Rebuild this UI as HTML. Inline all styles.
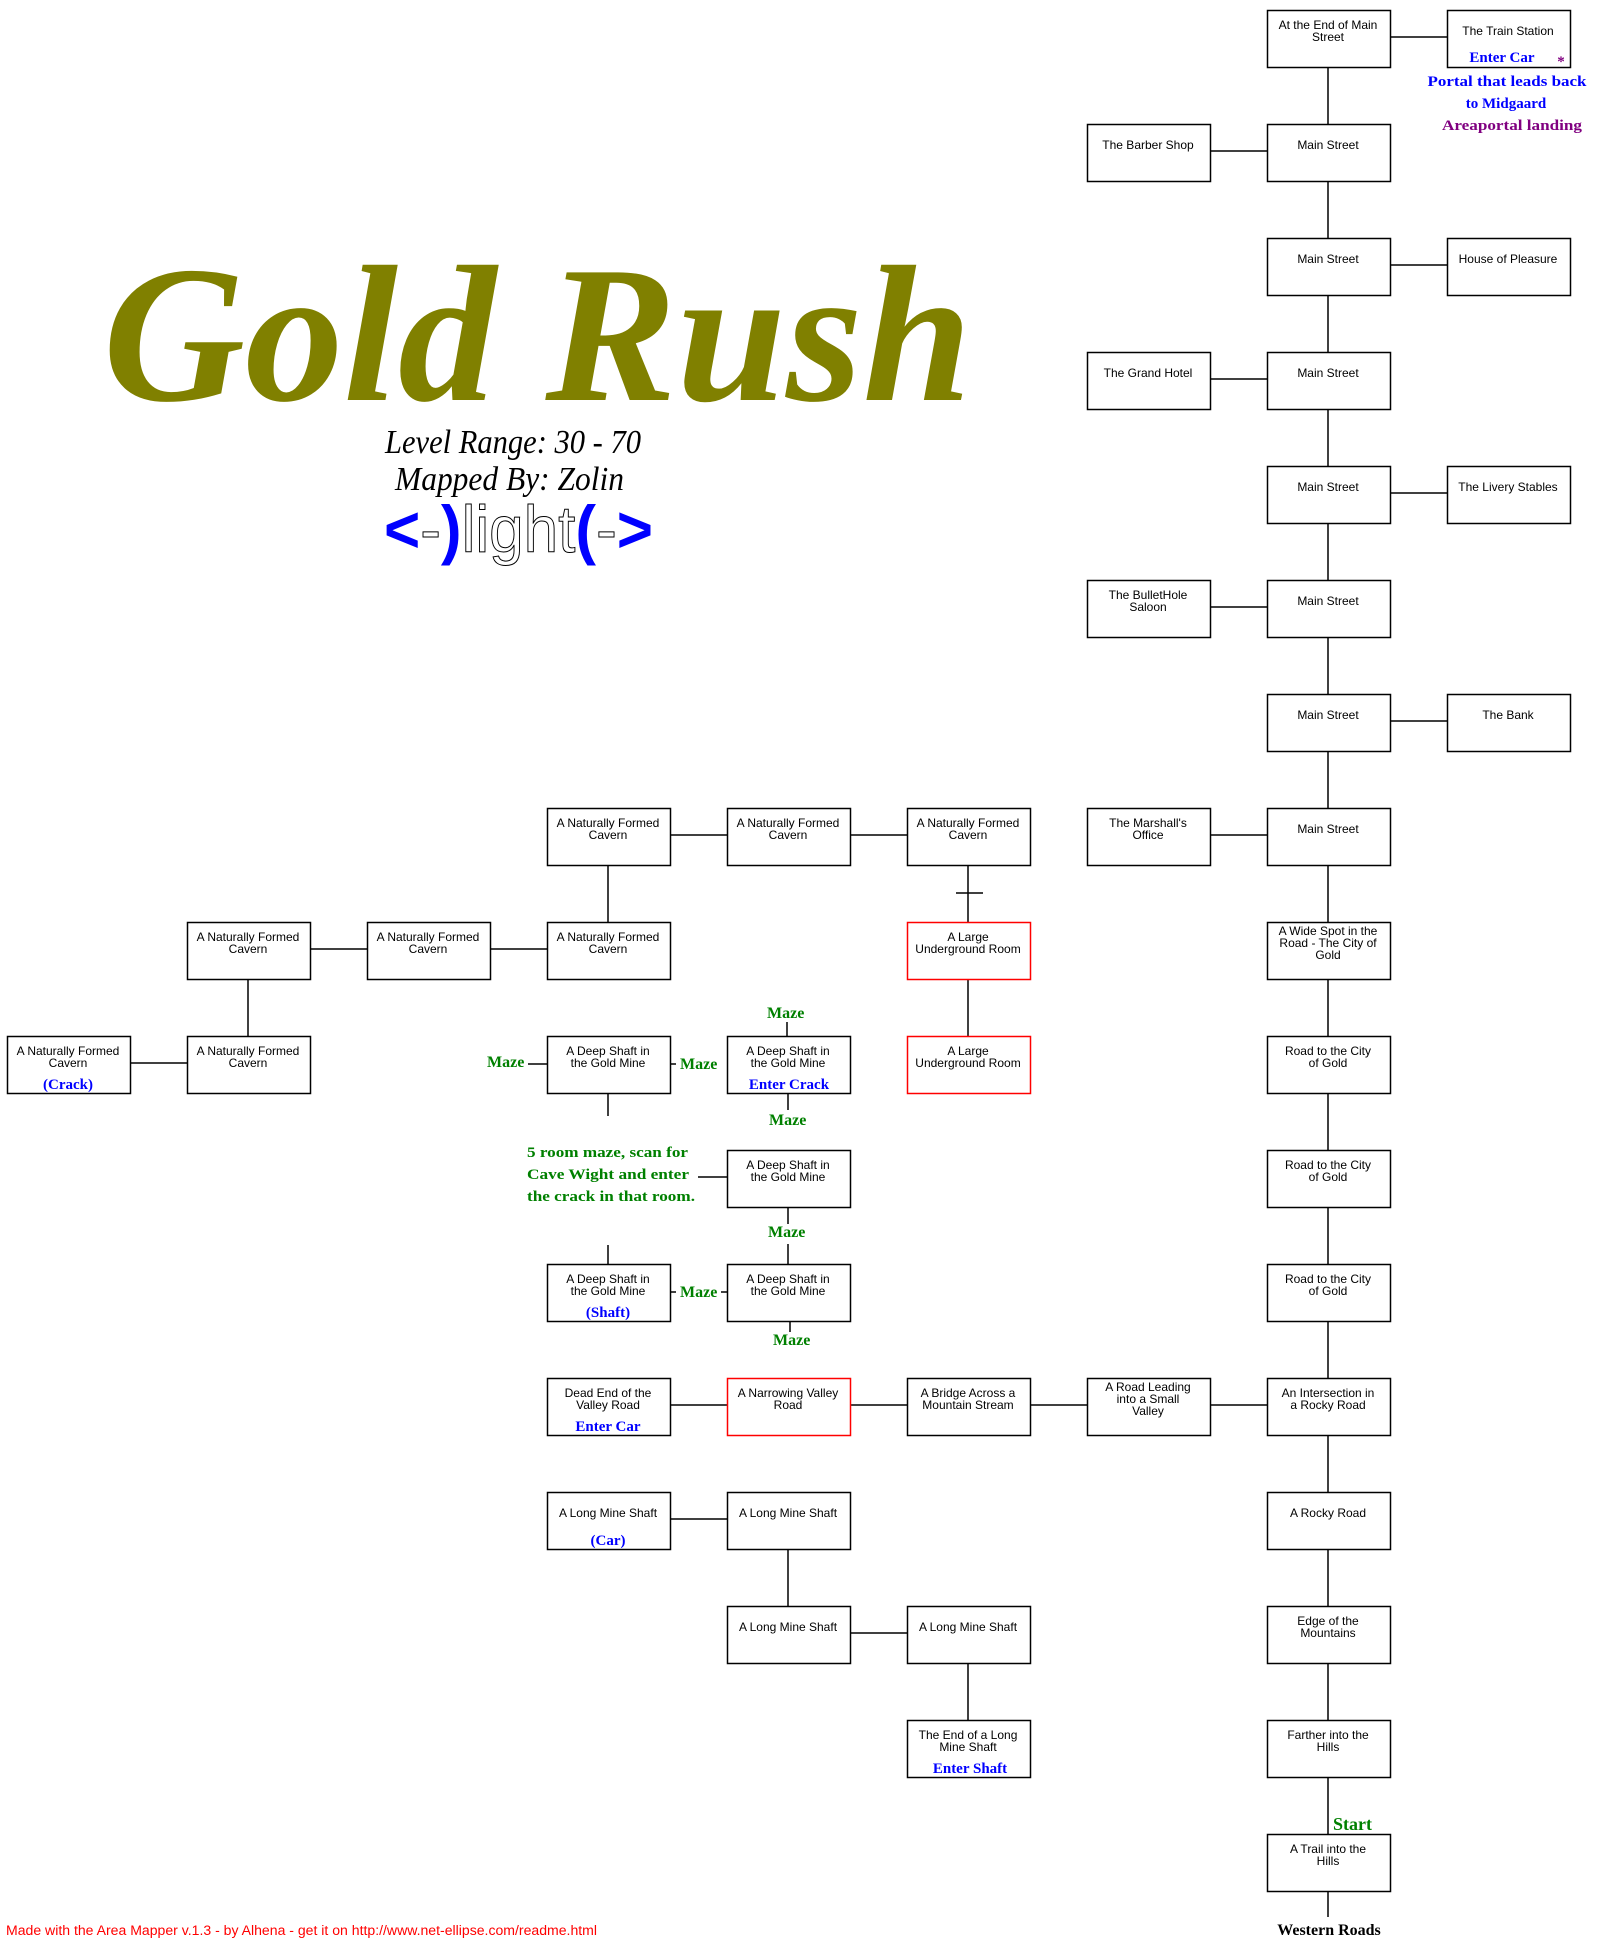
<!DOCTYPE html>
<html><head><meta charset="utf-8"><style>
html,body{margin:0;padding:0;background:#fff;}
svg{display:block}
.b{font-family:"Liberation Sans",sans-serif;font-size:12px;fill:#000;text-anchor:middle}
.s{font-family:"Liberation Serif",serif;font-weight:bold;font-size:15px;text-anchor:middle}
.g{font-family:"Liberation Serif",serif;font-weight:bold;font-size:16px;fill:#008000}
</style></head><body>
<svg width="1606" height="1946" viewBox="0 0 1606 1946" xmlns="http://www.w3.org/2000/svg">
<g stroke="#000" stroke-width="1.5" fill="none">
<line x1="1328" y1="67" x2="1328" y2="1917"/>
<line x1="1390" y1="37" x2="1447" y2="37"/>
<line x1="1210" y1="151" x2="1267" y2="151"/>
<line x1="1390" y1="265" x2="1447" y2="265"/>
<line x1="1210" y1="379" x2="1267" y2="379"/>
<line x1="1390" y1="493" x2="1447" y2="493"/>
<line x1="1210" y1="607" x2="1267" y2="607"/>
<line x1="1390" y1="721" x2="1447" y2="721"/>
<line x1="1210" y1="835" x2="1267" y2="835"/>
<line x1="670" y1="835" x2="727" y2="835"/>
<line x1="850" y1="835" x2="907" y2="835"/>
<line x1="608" y1="865" x2="608" y2="922"/>
<line x1="968" y1="865" x2="968" y2="922"/>
<line x1="956" y1="893" x2="983" y2="893"/>
<line x1="310" y1="949" x2="367" y2="949"/>
<line x1="490" y1="949" x2="547" y2="949"/>
<line x1="248" y1="979" x2="248" y2="1036"/>
<line x1="130" y1="1063" x2="187" y2="1063"/>
<line x1="968" y1="979" x2="968" y2="1036"/>
<line x1="528" y1="1064" x2="547" y2="1064"/>
<line x1="670" y1="1064" x2="676" y2="1064"/>
<line x1="787" y1="1022" x2="787" y2="1036"/>
<line x1="788" y1="1093" x2="788" y2="1110"/>
<line x1="608" y1="1093" x2="608" y2="1116"/>
<line x1="698" y1="1177" x2="727" y2="1177"/>
<line x1="788" y1="1207" x2="788" y2="1224"/>
<line x1="788" y1="1244" x2="788" y2="1264"/>
<line x1="608" y1="1245" x2="608" y2="1264"/>
<line x1="670" y1="1292" x2="676" y2="1292"/>
<line x1="721" y1="1292" x2="727" y2="1292"/>
<line x1="790" y1="1321" x2="790" y2="1332"/>
<line x1="670" y1="1405" x2="1267" y2="1405"/>
<line x1="670" y1="1519" x2="727" y2="1519"/>
<line x1="788" y1="1549" x2="788" y2="1606"/>
<line x1="850" y1="1633" x2="907" y2="1633"/>
<line x1="968" y1="1663" x2="968" y2="1720"/>
</g>
<g fill="#fff" stroke-width="1.5">
<rect x="1267.5" y="10.5" width="123" height="57" stroke="#000"/>
<rect x="1447.5" y="10.5" width="123" height="57" stroke="#000"/>
<rect x="1087.5" y="124.5" width="123" height="57" stroke="#000"/>
<rect x="1267.5" y="124.5" width="123" height="57" stroke="#000"/>
<rect x="1267.5" y="238.5" width="123" height="57" stroke="#000"/>
<rect x="1447.5" y="238.5" width="123" height="57" stroke="#000"/>
<rect x="1087.5" y="352.5" width="123" height="57" stroke="#000"/>
<rect x="1267.5" y="352.5" width="123" height="57" stroke="#000"/>
<rect x="1267.5" y="466.5" width="123" height="57" stroke="#000"/>
<rect x="1447.5" y="466.5" width="123" height="57" stroke="#000"/>
<rect x="1087.5" y="580.5" width="123" height="57" stroke="#000"/>
<rect x="1267.5" y="580.5" width="123" height="57" stroke="#000"/>
<rect x="1267.5" y="694.5" width="123" height="57" stroke="#000"/>
<rect x="1447.5" y="694.5" width="123" height="57" stroke="#000"/>
<rect x="547.5" y="808.5" width="123" height="57" stroke="#000"/>
<rect x="727.5" y="808.5" width="123" height="57" stroke="#000"/>
<rect x="907.5" y="808.5" width="123" height="57" stroke="#000"/>
<rect x="1087.5" y="808.5" width="123" height="57" stroke="#000"/>
<rect x="1267.5" y="808.5" width="123" height="57" stroke="#000"/>
<rect x="187.5" y="922.5" width="123" height="57" stroke="#000"/>
<rect x="367.5" y="922.5" width="123" height="57" stroke="#000"/>
<rect x="547.5" y="922.5" width="123" height="57" stroke="#000"/>
<rect x="907.5" y="922.5" width="123" height="57" stroke="#f00"/>
<rect x="1267.5" y="922.5" width="123" height="57" stroke="#000"/>
<rect x="7.5" y="1036.5" width="123" height="57" stroke="#000"/>
<rect x="187.5" y="1036.5" width="123" height="57" stroke="#000"/>
<rect x="547.5" y="1036.5" width="123" height="57" stroke="#000"/>
<rect x="727.5" y="1036.5" width="123" height="57" stroke="#000"/>
<rect x="907.5" y="1036.5" width="123" height="57" stroke="#f00"/>
<rect x="1267.5" y="1036.5" width="123" height="57" stroke="#000"/>
<rect x="727.5" y="1150.5" width="123" height="57" stroke="#000"/>
<rect x="1267.5" y="1150.5" width="123" height="57" stroke="#000"/>
<rect x="547.5" y="1264.5" width="123" height="57" stroke="#000"/>
<rect x="727.5" y="1264.5" width="123" height="57" stroke="#000"/>
<rect x="1267.5" y="1264.5" width="123" height="57" stroke="#000"/>
<rect x="547.5" y="1378.5" width="123" height="57" stroke="#000"/>
<rect x="727.5" y="1378.5" width="123" height="57" stroke="#f00"/>
<rect x="907.5" y="1378.5" width="123" height="57" stroke="#000"/>
<rect x="1087.5" y="1378.5" width="123" height="57" stroke="#000"/>
<rect x="1267.5" y="1378.5" width="123" height="57" stroke="#000"/>
<rect x="547.5" y="1492.5" width="123" height="57" stroke="#000"/>
<rect x="727.5" y="1492.5" width="123" height="57" stroke="#000"/>
<rect x="1267.5" y="1492.5" width="123" height="57" stroke="#000"/>
<rect x="727.5" y="1606.5" width="123" height="57" stroke="#000"/>
<rect x="907.5" y="1606.5" width="123" height="57" stroke="#000"/>
<rect x="1267.5" y="1606.5" width="123" height="57" stroke="#000"/>
<rect x="907.5" y="1720.5" width="123" height="57" stroke="#000"/>
<rect x="1267.5" y="1720.5" width="123" height="57" stroke="#000"/>
<rect x="1267.5" y="1834.5" width="123" height="57" stroke="#000"/>
</g>
<g class="b">
<text x="1328" y="29">At the End of Main</text><text x="1328" y="41">Street</text>
<text x="1508" y="35">The Train Station</text>
<text x="1148" y="149">The Barber Shop</text><text x="1328" y="149">Main Street</text>
<text x="1328" y="263">Main Street</text><text x="1508" y="263">House of Pleasure</text>
<text x="1148" y="377">The Grand Hotel</text><text x="1328" y="377">Main Street</text>
<text x="1328" y="491">Main Street</text><text x="1508" y="491">The Livery Stables</text>
<text x="1148" y="599">The BulletHole</text><text x="1148" y="611">Saloon</text><text x="1328" y="605">Main Street</text>
<text x="1328" y="719">Main Street</text><text x="1508" y="719">The Bank</text>
<text x="608" y="827">A Naturally Formed</text><text x="608" y="839">Cavern</text>
<text x="788" y="827">A Naturally Formed</text><text x="788" y="839">Cavern</text>
<text x="968" y="827">A Naturally Formed</text><text x="968" y="839">Cavern</text>
<text x="1148" y="827">The Marshall's</text><text x="1148" y="839">Office</text>
<text x="1328" y="833">Main Street</text>
<text x="248" y="941">A Naturally Formed</text><text x="248" y="953">Cavern</text>
<text x="428" y="941">A Naturally Formed</text><text x="428" y="953">Cavern</text>
<text x="608" y="941">A Naturally Formed</text><text x="608" y="953">Cavern</text>
<text x="968" y="941">A Large</text><text x="968" y="953">Underground Room</text>
<text x="1328" y="935">A Wide Spot in the</text><text x="1328" y="947">Road - The City of</text><text x="1328" y="959">Gold</text>
<text x="68" y="1055">A Naturally Formed</text><text x="68" y="1067">Cavern</text>
<text x="248" y="1055">A Naturally Formed</text><text x="248" y="1067">Cavern</text>
<text x="608" y="1055">A Deep Shaft in</text><text x="608" y="1067">the Gold Mine</text>
<text x="788" y="1055">A Deep Shaft in</text><text x="788" y="1067">the Gold Mine</text>
<text x="968" y="1055">A Large</text><text x="968" y="1067">Underground Room</text>
<text x="1328" y="1055">Road to the City</text><text x="1328" y="1067">of Gold</text>
<text x="788" y="1169">A Deep Shaft in</text><text x="788" y="1181">the Gold Mine</text>
<text x="1328" y="1169">Road to the City</text><text x="1328" y="1181">of Gold</text>
<text x="608" y="1283">A Deep Shaft in</text><text x="608" y="1295">the Gold Mine</text>
<text x="788" y="1283">A Deep Shaft in</text><text x="788" y="1295">the Gold Mine</text>
<text x="1328" y="1283">Road to the City</text><text x="1328" y="1295">of Gold</text>
<text x="608" y="1397">Dead End of the</text><text x="608" y="1409">Valley Road</text>
<text x="788" y="1397">A Narrowing Valley</text><text x="788" y="1409">Road</text>
<text x="968" y="1397">A Bridge Across a</text><text x="968" y="1409">Mountain Stream</text>
<text x="1148" y="1391">A Road Leading</text><text x="1148" y="1403">into a Small</text><text x="1148" y="1415">Valley</text>
<text x="1328" y="1397">An Intersection in</text><text x="1328" y="1409">a Rocky Road</text>
<text x="608" y="1517">A Long Mine Shaft</text><text x="788" y="1517">A Long Mine Shaft</text><text x="1328" y="1517">A Rocky Road</text>
<text x="788" y="1631">A Long Mine Shaft</text><text x="968" y="1631">A Long Mine Shaft</text>
<text x="1328" y="1625">Edge of the</text><text x="1328" y="1637">Mountains</text>
<text x="968" y="1739">The End of a Long</text><text x="968" y="1751">Mine Shaft</text>
<text x="1328" y="1739">Farther into the</text><text x="1328" y="1751">Hills</text>
<text x="1328" y="1853">A Trail into the</text><text x="1328" y="1865">Hills</text>
</g>
<g class="s" fill="#0000ff">
<text x="1502" y="62">Enter Car</text>
<text x="68" y="1089">(Crack)</text>
<text x="789" y="1089">Enter Crack</text>
<text x="608" y="1317">(Shaft)</text>
<text x="608" y="1431">Enter Car</text>
<text x="608" y="1545">(Car)</text>
<text x="970" y="1773">Enter Shaft</text>
</g>
<text x="1561" y="66" class="s" fill="#800080" font-size="14">*</text>
<g class="s" font-size="16" fill="#0000ff">
<text x="1507" y="86" textLength="159" lengthAdjust="spacingAndGlyphs">Portal that leads back</text>
<text x="1506" y="108">to Midgaard</text>
</g>
<text x="1512" y="130" class="s" font-size="16" fill="#800080" textLength="140" lengthAdjust="spacingAndGlyphs">Areaportal landing</text>
<g class="g">
<text x="487" y="1067">Maze</text>
<text x="680" y="1069">Maze</text>
<text x="767" y="1018">Maze</text>
<text x="769" y="1125">Maze</text>
<text x="768" y="1237">Maze</text>
<text x="680" y="1297">Maze</text>
<text x="773" y="1345">Maze</text>
<text x="527" y="1157" font-size="15" textLength="161" lengthAdjust="spacingAndGlyphs">5 room maze, scan for</text>
<text x="527" y="1179" font-size="15" textLength="162" lengthAdjust="spacingAndGlyphs">Cave Wight and enter</text>
<text x="527" y="1201" font-size="15" textLength="168" lengthAdjust="spacingAndGlyphs">the crack in that room.</text>
<text x="1333" y="1830" font-size="18">Start</text>
</g>
<text x="1329" y="1935" font-family="Liberation Serif,serif" font-weight="bold" font-size="16" text-anchor="middle" fill="#000">Western Roads</text>
<text x="6" y="1935" font-family="Liberation Sans,sans-serif" font-size="13.5" fill="#f00" textLength="591" lengthAdjust="spacingAndGlyphs">Made with the Area Mapper v.1.3 - by Alhena - get it on http://www.net-ellipse.com/readme.html</text>
<text x="103" y="400" font-family="Liberation Serif,serif" font-style="italic" font-weight="bold" font-size="195" fill="#808000" textLength="869" lengthAdjust="spacingAndGlyphs">Gold Rush</text>
<text x="385" y="453" font-family="Liberation Serif,serif" font-style="italic" font-size="34" fill="#000" textLength="256" lengthAdjust="spacingAndGlyphs">Level Range: 30 - 70</text>
<text x="395" y="490" font-family="Liberation Serif,serif" font-style="italic" font-size="34" fill="#000" textLength="229" lengthAdjust="spacingAndGlyphs">Mapped By: Zolin</text>
<text x="384" y="552" font-family="Liberation Sans,sans-serif" font-size="66" textLength="269" lengthAdjust="spacingAndGlyphs"><tspan fill="#0000ff" font-weight="bold">&lt;</tspan><tspan fill="#fff" stroke="#000" stroke-width="1">-</tspan><tspan fill="#0000ff" font-weight="bold">)</tspan><tspan fill="#fff" stroke="#000" stroke-width="1">light</tspan><tspan fill="#0000ff" font-weight="bold">(</tspan><tspan fill="#fff" stroke="#000" stroke-width="1">-</tspan><tspan fill="#0000ff" font-weight="bold">&gt;</tspan></text>
</svg>
</body></html>
